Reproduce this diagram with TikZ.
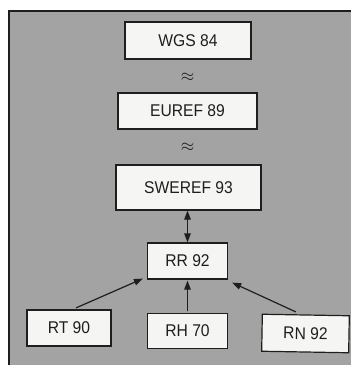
\documentclass[tikz,border=0pt]{standalone}
\usepackage{graphicx}
\usepackage{fontspec}
\setmainfont{Liberation Sans}
\usetikzlibrary{arrows.meta}
\definecolor{panelgray}{HTML}{A3A3A3}
\definecolor{boxfill}{HTML}{F5F5F3}
\definecolor{inkc}{HTML}{1E1E1E}
\newcommand{\lbl}[1]{\scalebox{0.92}[1]{#1}}
\tikzset{
  frame/.style={draw=inkc, line width=1.2pt, fill=boxfill, inner sep=0pt,
    font=\fontsize{17}{20}\selectfont, text=inkc},
  approxsym/.style={inner sep=0pt, text=inkc, font=\fontsize{16}{18}\selectfont},
  arr/.style={draw=inkc, line width=1.2pt, -{Triangle[length=9pt,width=6.5pt]}},
  darr/.style={draw=inkc, line width=1.2pt, {Triangle[length=9pt,width=6.5pt]}-{Triangle[length=9pt,width=6.5pt]}}
}
\begin{document}
\begin{tikzpicture}[x=1pt,y=-1pt]
\useasboundingbox (0,0) rectangle (351,367);
\fill[white] (0,0) rectangle (351,367);
\fill[panelgray] (9,11) rectangle (351,365);
\draw[inkc, line width=1.4pt] (9,365) -- (9,11) -- (351,11);

\node[frame, minimum width=126pt, minimum height=37pt] (wgs) at (188,40.5) {\lbl{WGS 84}};
\node[approxsym] (ap1) at (187.5,77) {$\approx$};
\node[frame, minimum width=139pt, minimum height=36pt] (euref) at (187.5,111) {\lbl{EUREF 89}};
\node[approxsym] (ap2) at (187.5,147) {$\approx$};
\node[frame, minimum width=145pt, minimum height=45pt] (sweref) at (188.5,187.5) {\lbl{SWEREF 93}};
\node[frame, minimum width=80pt, minimum height=36pt] (rr) at (187.5,261) {\lbl{RR 92}};
\node[frame, minimum width=84pt, minimum height=36pt] (rt) at (69,328) {\lbl{RT 90}};
\node[frame, minimum width=80pt, minimum height=35pt] (rh) at (187.5,331) {\lbl{RH 70}};
\node[frame, minimum width=87pt, minimum height=37pt, rotate=-1] (rn) at (305.5,333.5) {\lbl{RN 92}};

\draw[darr] (sweref.south -| rr.north) -- (rr.north);
\draw[arr] ([xshift=7pt,yshift=1.5pt]rt.north) -- ([xshift=-4pt,yshift=1pt]rr.south west);
\draw[arr] ([yshift=1.5pt]rh.north) -- ([yshift=-1pt]rr.south);
\draw[arr] ([xshift=-10pt,yshift=2.5pt]rn.north) -- ([xshift=4pt,yshift=-3pt]rr.south east);
\end{tikzpicture}
\end{document}
